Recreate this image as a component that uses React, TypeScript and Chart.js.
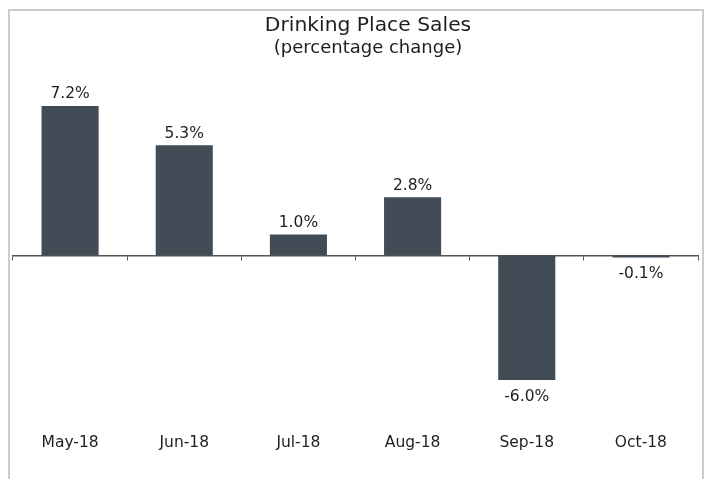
import React, { useEffect, useRef } from "react";
import { Chart, registerables } from "chart.js";

Chart.register(...registerables);

const categories = ["May-18", "Jun-18", "Jul-18", "Aug-18", "Sep-18", "Oct-18"];
const salesChange = [7.2, 5.3, 1.0, 2.8, -6.0, -0.1];
const titleText = "Drinking Place Sales";
const subtitleText = "(percentage change)";
const yMin = -8;
const yMax = 8;

const FONT = "'DejaVu Sans', Verdana, sans-serif";
const TEXT = "#1e1e1e";
const BAR = "#414c57";
const AXIS = "#555555";

const valueLabels = {
  id: "valueLabels",
  afterDatasetsDraw(chart: any) {
    const ctx = chart.ctx;
    const meta = chart.getDatasetMeta(0);
    const data = chart.data.datasets[0].data as number[];
    ctx.save();
    ctx.font = `15.5px ${FONT}`;
    ctx.fillStyle = TEXT;
    ctx.textAlign = "center";
    ctx.textBaseline = "alphabetic";
    meta.data.forEach((bar: any, i: number) => {
      const v = data[i];
      const txt = v.toFixed(1) + "%";
      const y = v >= 0 ? bar.y - 7.5 : bar.y + 21;
      ctx.fillText(txt, bar.x, y);
    });
    ctx.restore();
  },
};

export default function App() {
  const ref = useRef<HTMLCanvasElement | null>(null);

  useEffect(() => {
    document.documentElement.style.overflow = "hidden";
    document.body.style.overflow = "hidden";
    if (!ref.current) return;
    const chart = new Chart(ref.current, {
      type: "bar",
      data: {
        labels: categories,
        datasets: [
          {
            data: salesChange,
            backgroundColor: BAR,
            borderWidth: 0,
            barPercentage: 0.5,
            categoryPercentage: 1,
          },
        ],
      },
      options: {
        animation: false,
        responsive: false,
        maintainAspectRatio: false,
        devicePixelRatio: 1,
        layout: { padding: { left: 3, right: 0, top: 0, bottom: 15 } },
        plugins: {
          legend: { display: false },
          tooltip: { enabled: false },
          title: {
            display: true,
            text: titleText,
            color: TEXT,
            font: { family: FONT, size: 20.3, weight: "normal", lineHeight: 1 },
            padding: { top: 5, bottom: 0 },
          },
          subtitle: {
            display: true,
            text: subtitleText,
            color: TEXT,
            font: { family: FONT, size: 18, weight: "normal", lineHeight: 1 },
            padding: { top: 3, bottom: 32 },
          },
        },
        scales: {
          x: {
            type: "category",
            position: "bottom",
            grid: { display: false, drawTicks: false },
            border: { display: false },
            ticks: {
              color: TEXT,
              font: { family: FONT, size: 15.5 },
              padding: 12,
              maxRotation: 0,
              autoSkip: false,
            },
          },
          x2: {
            type: "category",
            axis: "x",
            labels: categories,
            position: { y: 0 },
            offset: true,
            z: 1,
            grid: {
              display: true,
              offset: true,
              drawOnChartArea: false,
              drawTicks: true,
              tickLength: 4,
              color: AXIS,
              lineWidth: 1,
            },
            border: { display: true, color: AXIS, width: 1.5 },
            ticks: { display: false },
          },
          y: {
            position: "right",
            min: yMin,
            max: yMax,
            grid: { display: false, drawTicks: false },
            border: { display: false },
            ticks: { display: false },
            afterFit: (s: any) => {
              s.width = 25;
            },
          },
        },
      } as any,
      plugins: [valueLabels],
    });
    return () => chart.destroy();
  }, []);

  return (
    <div
      style={{
        marginTop: 1,
        border: "2px solid #cccccc",
        height: 470,
        overflow: "hidden",
        position: "relative",
      }}
    >
      <canvas
        ref={ref}
        width={713}
        height={468}
        style={{ display: "block", width: 713, height: 468 }}
      />
    </div>
  );
}
